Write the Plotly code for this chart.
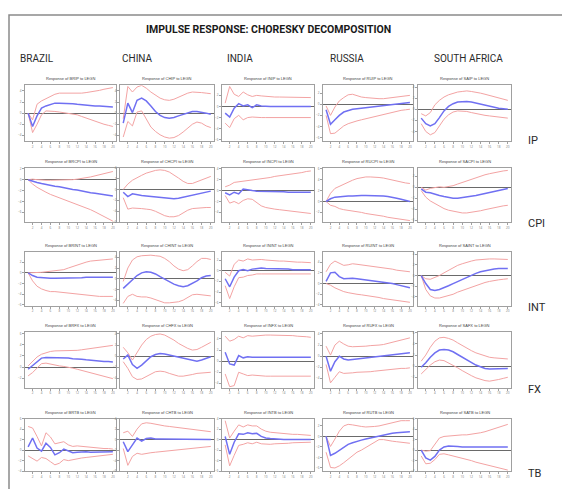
import plotly.graph_objects as go

# ---------------- data ----------------
periods = list(range(1, 21))
countries = ["BRAZIL", "CHINA", "INDIA", "RUSSIA", "SOUTH AFRICA"]
codes = ["BR", "CH", "IN", "RU", "SA"]
variables = ["IP", "CPI", "INT", "FX", "TB"]
title_text = "IMPULSE RESPONSE: CHORESKY DECOMPOSITION"
shock_name = "LEGN"

# IP
ip_brazil_resp = [0, -2.4, -0.5, 0.9, 1.3, 1.6, 1.8, 1.8, 1.8, 1.8, 1.7, 1.6, 1.5, 1.4, 1.4, 1.3, 1.3, 1.2, 1.2, 1.1]
ip_brazil_up = [0, -1.2, 1.6, 2.2, 2.6, 3.0, 3.4, 3.6, 3.6, 3.5, 3.5, 3.5, 3.6, 3.7, 3.8, 4.0, 4.1, 4.3, 4.4, 4.6]
ip_brazil_lo = [0, -3.5, -2.0, -0.3, 0.4, 0.4, 0.3, 0.2, 0.1, 0.0, -0.1, -0.3, -0.6, -0.9, -1.2, -1.5, -1.8, -2.0, -2.2, -2.4]
ip_china_resp = [-1.8, 1.8, 0.1, 2.3, 2.7, 2.2, 1.3, 0.3, -0.4, -0.8, -0.9, -0.8, -0.5, -0.2, 0.1, 0.3, 0.3, 0.2, 0.0, -0.2]
ip_china_up = [-1.0, 4.8, 3.8, 4.7, 5.0, 4.5, 3.8, 3.2, 2.7, 2.4, 2.3, 2.5, 2.9, 3.3, 3.6, 3.8, 3.8, 3.7, 3.6, 3.5]
ip_china_lo = [-4.3, -1.5, -2.3, 0.2, 0.4, -1.0, -2.5, -3.3, -3.9, -4.3, -4.5, -4.4, -4.0, -3.4, -2.7, -2.0, -1.6, -1.8, -2.3, -2.6]
ip_india_resp = [-1.2, -1.9, -0.3, 0.5, 0.1, 0.3, -0.2, 0.3, 0.1, 0.0, 0.0, 0.0, 0.0, 0.0, 0.0, 0.0, 0.0, 0.0, 0.0, 0.0]
ip_india_up = [0.6, 3.6, 2.2, 1.8, 2.6, 2.1, 1.8, 2.0, 1.9, 1.8, 1.8, 1.7, 1.7, 1.7, 1.7, 1.6, 1.6, 1.6, 1.6, 1.6]
ip_india_lo = [-3.0, -3.8, -2.2, -1.6, -2.4, -2.0, -1.9, -2.0, -2.0, -2.0, -2.0, -2.0, -2.0, -2.0, -2.0, -2.0, -2.0, -2.0, -2.0, -2.0]
ip_russia_resp = [-1.0, -3.6, -2.8, -2.0, -1.4, -1.1, -0.9, -0.8, -0.7, -0.6, -0.5, -0.4, -0.3, -0.2, -0.1, 0.0, 0.1, 0.2, 0.2, 0.3]
ip_russia_up = [-0.3, -2.0, -0.5, 0.6, 1.2, 1.7, 1.8, 1.5, 1.3, 1.2, 1.1, 1.0, 1.0, 1.0, 1.1, 1.2, 1.3, 1.4, 1.5, 1.6]
ip_russia_lo = [-2.0, -5.3, -5.2, -4.5, -3.9, -3.5, -3.2, -3.0, -2.8, -2.6, -2.4, -2.2, -2.0, -1.8, -1.6, -1.4, -1.2, -1.1, -1.0, -0.9]
ip_safrica_resp = [-1.6, -2.6, -3.0, -2.6, -1.5, -0.3, 0.5, 1.0, 1.3, 1.4, 1.4, 1.3, 1.1, 0.9, 0.7, 0.5, 0.4, 0.2, 0.1, 0.0]
ip_safrica_up = [-0.8, -1.2, -0.6, 0.8, 1.6, 2.2, 2.6, 2.9, 3.1, 3.2, 3.3, 3.2, 3.1, 2.9, 2.7, 2.5, 2.2, 2.0, 1.8, 1.6]
ip_safrica_lo = [-2.6, -4.0, -4.6, -4.2, -3.0, -1.8, -1.0, -0.5, -0.3, -0.3, -0.4, -0.6, -0.8, -1.0, -1.1, -1.2, -1.3, -1.4, -1.5, -1.6]

# CPI
cpi_brazil_resp = [0, -0.3, -0.5, -0.7, -0.9, -1.0, -1.2, -1.3, -1.5, -1.6, -1.8, -1.9, -2.1, -2.2, -2.4, -2.5, -2.6, -2.8, -2.9, -3.0]
cpi_brazil_up = [0, 0.1, 0.0, -0.1, -0.1, -0.1, -0.1, -0.1, 0.0, 0.0, 0.0, 0.1, 0.2, 0.3, 0.5, 0.7, 0.9, 1.1, 1.3, 1.5]
cpi_brazil_lo = [0, -0.8, -1.4, -1.9, -2.3, -2.7, -3.0, -3.3, -3.6, -3.9, -4.2, -4.5, -4.8, -5.2, -5.5, -5.9, -6.3, -6.7, -7.2, -7.6]
cpi_china_resp = [-0.5, -1.3, -0.8, -1.0, -1.1, -1.2, -1.3, -1.4, -1.5, -1.6, -1.7, -1.7, -1.6, -1.4, -1.2, -1.0, -0.8, -0.6, -0.4, -0.3]
cpi_china_up = [0.0, 1.0, 1.7, 2.2, 2.6, 3.0, 3.3, 3.5, 3.6, 3.5, 3.2, 2.7, 2.1, 1.5, 1.1, 1.1, 1.4, 1.8, 2.1, 2.4]
cpi_china_lo = [-1.5, -3.6, -3.4, -3.4, -3.5, -3.6, -3.7, -4.0, -4.4, -4.8, -5.0, -5.0, -4.8, -4.3, -3.8, -3.5, -3.4, -3.3, -3.3, -3.3]
cpi_india_resp = [-0.4, -0.8, -0.3, -0.6, 0.3, 0.1, 0.0, -0.1, -0.1, -0.2, -0.2, -0.2, -0.2, -0.2, -0.3, -0.3, -0.3, -0.3, -0.3, -0.3]
cpi_india_up = [0.7, 1.0, 1.5, 1.6, 1.8, 1.9, 2.0, 2.1, 2.2, 2.3, 2.4, 2.6, 2.7, 2.8, 2.9, 3.1, 3.2, 3.3, 3.5, 3.6]
cpi_india_lo = [-0.9, -2.3, -2.0, -2.4, -1.8, -1.5, -1.6, -2.2, -2.8, -3.1, -3.3, -3.4, -3.5, -3.6, -3.7, -3.8, -3.9, -4.0, -4.1, -4.2]
cpi_russia_resp = [0.0, 0.5, 0.8, 0.9, 0.9, 1.0, 1.0, 1.1, 1.1, 1.1, 1.1, 1.1, 1.0, 1.0, 0.9, 0.8, 0.6, 0.4, 0.2, 0.0]
cpi_russia_up = [0.0, 1.5, 2.4, 2.8, 3.2, 3.6, 3.9, 4.2, 4.4, 4.5, 4.5, 4.5, 4.4, 4.3, 4.1, 3.9, 3.7, 3.6, 3.4, 3.3]
cpi_russia_lo = [0.0, -0.7, -0.9, -1.3, -1.5, -1.6, -1.8, -1.9, -2.0, -2.2, -2.3, -2.5, -2.6, -2.7, -2.9, -3.0, -3.1, -3.3, -3.4, -3.5]
cpi_safrica_resp = [-0.3, -0.9, -1.0, -1.3, -1.5, -1.7, -1.9, -2.0, -2.0, -1.9, -1.8, -1.7, -1.5, -1.3, -1.1, -0.9, -0.7, -0.5, -0.4, -0.2]
cpi_safrica_up = [0.0, -0.5, -0.2, 0.0, 0.1, 0.0, 0.1, 0.3, 0.6, 0.9, 1.2, 1.5, 1.8, 2.1, 2.3, 2.5, 2.7, 2.9, 3.0, 3.1]
cpi_safrica_lo = [-0.6, -1.8, -2.5, -3.0, -3.5, -3.9, -4.2, -4.4, -4.6, -4.7, -4.7, -4.6, -4.5, -4.3, -4.1, -3.9, -3.7, -3.5, -3.4, -3.3]

# INT
int_brazil_resp = [0, -0.5, -0.8, -0.9, -1.0, -1.0, -1.0, -1.0, -1.0, -0.9, -0.9, -0.9, -0.9, -0.8, -0.8, -0.8, -0.8, -0.8, -0.8, -0.8]
int_brazil_up = [0, 0.0, 0.1, 0.1, 0.2, 0.3, 0.3, 0.4, 0.6, 0.9, 1.2, 1.5, 1.8, 2.0, 2.2, 2.3, 2.4, 2.5, 2.6, 2.6]
int_brazil_lo = [0, -1.5, -2.5, -3.0, -3.3, -3.5, -3.5, -3.6, -3.7, -3.8, -3.9, -4.0, -4.1, -4.2, -4.3, -4.3, -4.4, -4.4, -4.4, -4.4]
int_china_resp = [-1.8, -1.0, -0.2, 0.6, 1.1, 1.3, 1.2, 0.9, 0.4, -0.1, -0.6, -1.0, -1.3, -1.5, -1.3, -0.9, -0.4, 0.2, 0.5, 0.6]
int_china_up = [-0.5, 2.0, 3.5, 4.1, 4.3, 4.4, 4.4, 4.3, 4.2, 3.8, 3.2, 2.4, 1.8, 1.5, 1.7, 2.4, 3.2, 3.8, 3.8, 3.6]
int_china_lo = [-4.6, -3.3, -2.9, -3.3, -3.4, -3.4, -3.6, -3.9, -4.3, -4.5, -4.5, -4.4, -4.3, -4.0, -3.5, -3.0, -2.9, -3.0, -3.1, -3.2]
int_india_resp = [-1.5, -3.0, -1.2, 0.0, 0.2, 0.0, 0.3, 0.4, 0.5, 0.4, 0.4, 0.3, 0.3, 0.3, 0.3, 0.2, 0.2, 0.2, 0.2, 0.2]
int_india_up = [-0.3, -1.0, 1.2, 2.0, 1.8, 2.2, 2.0, 2.1, 2.1, 2.0, 1.9, 1.9, 1.8, 1.8, 1.7, 1.7, 1.6, 1.6, 1.5, 1.5]
int_india_lo = [-2.8, -5.2, -3.0, -1.3, -1.2, -0.9, -0.8, -0.6, -0.6, -0.6, -0.6, -0.6, -0.6, -0.6, -0.6, -0.6, -0.6, -0.6, -0.6, -0.6]
int_russia_resp = [0.4, 2.0, 2.1, 1.3, 0.9, 1.0, 1.0, 0.9, 0.8, 0.7, 0.6, 0.5, 0.4, 0.3, 0.2, 0.0, -0.2, -0.4, -0.6, -0.8]
int_russia_up = [2.2, 3.6, 4.2, 3.8, 3.4, 3.5, 3.7, 3.6, 3.5, 3.4, 3.3, 3.2, 3.1, 2.9, 2.8, 2.7, 2.5, 2.4, 2.3, 2.2]
int_russia_lo = [0.0, -0.3, -0.8, -1.2, -1.5, -1.7, -1.9, -2.0, -2.1, -2.2, -2.4, -2.5, -2.6, -2.8, -2.9, -3.0, -3.1, -3.3, -3.4, -3.5]
int_safrica_resp = [0.0, -1.5, -2.6, -2.8, -2.6, -2.3, -1.9, -1.5, -1.1, -0.7, -0.3, 0.1, 0.4, 0.7, 0.9, 1.1, 1.2, 1.3, 1.3, 1.3]
int_safrica_up = [0.0, -0.6, -0.7, -0.4, 0.0, 0.5, 1.0, 1.5, 1.9, 2.2, 2.5, 2.7, 2.9, 3.0, 3.1, 3.1, 3.1, 3.1, 3.0, 3.0]
int_safrica_lo = [0.0, -2.6, -3.8, -4.2, -4.2, -4.0, -3.8, -3.5, -3.1, -2.8, -2.4, -2.1, -1.8, -1.5, -1.3, -1.1, -0.9, -0.8, -0.7, -0.6]

# FX
fx_brazil_resp = [-0.4, 0.3, 1.0, 1.6, 1.7, 1.7, 1.7, 1.7, 1.6, 1.6, 1.5, 1.5, 1.4, 1.3, 1.2, 1.2, 1.1, 1.0, 1.0, 0.9]
fx_brazil_up = [0.2, 1.0, 1.8, 2.3, 2.6, 2.8, 2.9, 2.9, 2.9, 2.9, 2.9, 3.0, 3.1, 3.2, 3.3, 3.4, 3.6, 3.7, 3.8, 3.9]
fx_brazil_lo = [-1.6, -1.0, -0.2, 0.6, 0.7, 0.5, 0.4, 0.2, 0.1, 0.0, -0.2, -0.4, -0.6, -0.8, -1.0, -1.3, -1.5, -1.7, -1.9, -2.1]
fx_china_resp = [-0.5, 0.2, -1.5, -2.2, -1.6, -0.8, -0.1, 0.3, 0.5, 0.4, 0.2, 0.0, -0.2, -0.4, -0.6, -0.8, -0.9, -0.7, -0.4, -0.1]
fx_china_up = [1.6, 0.6, -0.7, 0.6, 2.0, 3.0, 3.6, 3.9, 4.0, 3.8, 3.4, 2.9, 2.3, 1.8, 1.4, 1.1, 1.2, 1.6, 2.1, 2.5]
fx_china_lo = [-1.0, -2.2, -3.7, -4.2, -4.1, -3.7, -3.2, -2.8, -2.7, -2.8, -3.1, -3.4, -3.6, -3.6, -3.5, -3.3, -3.1, -3.0, -2.9, -2.9]
fx_india_resp = [1.6, -0.5, -0.7, 1.0, 0.6, 0.8, 0.7, 0.7, 0.8, 0.7, 0.7, 0.7, 0.7, 0.7, 0.7, 0.7, 0.7, 0.7, 0.7, 0.7]
fx_india_up = [4.5, 3.6, 3.9, 4.5, 4.2, 4.6, 4.5, 4.6, 4.7, 4.7, 4.7, 4.7, 4.7, 4.7, 4.6, 4.6, 4.5, 4.5, 4.4, 4.3]
fx_india_lo = [-2.3, -4.6, -4.4, -2.0, -2.3, -2.6, -2.5, -2.6, -2.6, -2.7, -2.7, -2.7, -2.7, -2.7, -2.7, -2.7, -2.7, -2.7, -2.7, -2.7]
fx_russia_resp = [0.0, -2.7, -1.0, 0.0, -0.5, -0.7, -0.6, -0.5, -0.4, -0.4, -0.3, -0.2, -0.1, 0.0, 0.1, 0.2, 0.3, 0.4, 0.5, 0.6]
fx_russia_up = [1.8, 0.2, 2.0, 2.7, 2.2, 1.8, 1.7, 1.7, 1.8, 1.8, 1.9, 1.9, 2.0, 2.1, 2.3, 2.5, 2.7, 2.9, 3.1, 3.3]
fx_russia_lo = [-1.5, -4.8, -3.8, -2.8, -3.1, -3.1, -3.0, -2.9, -2.9, -2.8, -2.8, -2.7, -2.6, -2.5, -2.4, -2.3, -2.3, -2.2, -2.2, -2.1]
fx_safrica_resp = [-0.2, 0.6, 1.6, 2.4, 2.9, 3.0, 2.9, 2.6, 2.1, 1.6, 1.1, 0.6, 0.2, -0.1, -0.4, -0.5, -0.5, -0.5, -0.5, -0.4]
fx_safrica_up = [0.9, 2.0, 3.4, 4.5, 5.1, 5.2, 5.0, 4.7, 4.2, 3.7, 3.2, 2.8, 2.4, 2.1, 1.8, 1.6, 1.5, 1.4, 1.3, 1.3]
fx_safrica_lo = [-1.4, -0.6, 0.2, 0.8, 1.1, 1.0, 0.6, 0.2, -0.3, -0.8, -1.3, -1.7, -2.1, -2.4, -2.6, -2.7, -2.6, -2.4, -2.2, -2.0]

# TB
tb_brazil_resp = [0.6, 2.3, 0.4, -0.2, 1.3, 0.5, -0.9, -0.5, 0.2, -0.2, -0.5, -0.4, -0.3, -0.3, -0.4, -0.4, -0.3, -0.3, -0.3, -0.3]
tb_brazil_up = [4.5, 4.2, 2.6, 0.8, 3.3, 2.5, 1.2, 1.4, 1.6, 1.0, 0.7, 0.8, 0.7, 0.6, 0.5, 0.5, 0.4, 0.3, 0.3, 0.2]
tb_brazil_lo = [-1.1, -1.6, -2.1, -1.4, -1.6, -2.2, -2.8, -2.5, -1.8, -2.0, -1.8, -1.6, -1.5, -1.4, -1.3, -1.2, -1.1, -1.0, -0.9, -0.8]
tb_china_resp = [-0.4, -2.3, -1.0, 0.3, -0.3, 0.2, 0.3, 0.1, 0.1, 0.1, 0.0, 0.1, 0.1, 0.1, 0.0, 0.0, 0.0, 0.0, 0.0, 0.0]
tb_china_up = [1.3, 1.6, 0.6, 2.0, 3.0, 3.2, 3.1, 2.9, 2.7, 2.6, 2.5, 2.4, 2.3, 2.2, 2.1, 2.0, 1.9, 1.8, 1.6, 1.5]
tb_china_lo = [-1.7, -4.9, -3.2, -2.6, -2.8, -2.6, -2.5, -2.4, -2.3, -2.2, -2.1, -2.0, -1.9, -1.8, -1.7, -1.6, -1.5, -1.4, -1.3, -1.3]
tb_india_resp = [0.6, -2.8, -0.5, 1.1, 1.0, 1.3, 1.1, 1.2, 0.6, 0.3, 0.2, 0.1, 0.0, 0.0, 0.0, 0.0, 0.0, 0.0, 0.0, 0.0]
tb_india_up = [3.6, 0.3, 1.6, 2.8, 2.4, 2.8, 2.6, 2.6, 2.0, 1.6, 1.4, 1.3, 1.2, 1.1, 1.1, 1.0, 1.0, 0.9, 0.9, 0.8]
tb_india_lo = [-1.0, -5.0, -3.0, -1.1, -0.9, -0.6, -0.8, -0.5, -0.8, -0.9, -0.9, -0.8, -0.8, -0.7, -0.7, -0.6, -0.6, -0.6, -0.5, -0.5]
tb_russia_resp = [0.0, -3.6, -3.2, -2.6, -2.0, -1.5, -1.2, -0.9, -0.7, -0.5, -0.3, -0.1, 0.1, 0.3, 0.5, 0.6, 0.7, 0.8, 0.9, 0.9]
tb_russia_up = [0.0, -1.9, -0.5, 1.0, 2.0, 2.3, 2.2, 2.0, 1.9, 1.8, 1.8, 1.9, 2.0, 2.2, 2.5, 2.7, 2.9, 3.0, 3.0, 3.0]
tb_russia_lo = [-3.0, -5.9, -6.0, -5.6, -5.0, -4.3, -3.6, -3.0, -2.6, -2.1, -1.5, -1.0, -0.6, -0.6, -0.8, -0.9, -1.0, -1.1, -1.2, -1.3]
tb_safrica_resp = [0.0, -1.5, -1.9, -1.2, 0.0, 0.6, 0.8, 0.8, 0.7, 0.6, 0.6, 0.6, 0.5, 0.5, 0.5, 0.5, 0.6, 0.6, 0.6, 0.6]
tb_safrica_up = [0.0, -0.2, -0.1, 1.2, 2.3, 2.6, 2.7, 2.8, 2.8, 2.9, 2.9, 3.0, 3.1, 3.3, 3.5, 3.8, 4.1, 4.4, 4.7, 4.9]
tb_safrica_lo = [-1.1, -2.6, -2.5, -1.8, -0.8, -0.7, -0.9, -1.1, -1.3, -1.5, -1.8, -2.0, -2.3, -2.5, -2.8, -3.0, -3.2, -3.4, -3.6, -3.8]

g = globals()
keys = ["brazil", "china", "india", "russia", "safrica"]

# y-axis lower bounds for each panel (row = variable, col = country); span is 10
y_lo = [
    [-5, -5, -6.2, -6.6, -5.7],
    [-7.8, -6, -5.8, -3.8, -6.4],
    [-6.1, -5, -6.5, -4.1, -5.6],
    [-3.75, -5.7, -4.8, -5.7, -3.9],
    [-4, -6, -6, -6.6, -4],
]

# ---------------- layout geometry (page pixels) ----------------
PAGE_OFF = 8            # the html body margin shifts the figure by 8 px
W, H = 570 - PAGE_OFF, 489 - PAGE_OFF
col_px = [(25, 116), (120, 214), (222, 314), (323, 413), (418, 511)]
row_px = [(84, 140), (167, 222), (252, 306), (333, 389), (420, 473)]

def fx(px):
    return (px - PAGE_OFF) / W

def fy(py):
    return 1 - (py - PAGE_OFF) / H

BLUE = "#7070f2"
RED = "#f3a3a3"
FONT = "Roboto, sans-serif"

fig = go.Figure()
layout = dict(
    width=W, height=H,
    margin=dict(l=0, r=0, t=0, b=0),
    paper_bgcolor="white", plot_bgcolor="white",
    showlegend=False,
)
annotations = []

for r, var in enumerate(variables):
    for c, key in enumerate(keys):
        k = r * 5 + c + 1
        xa = "x" if k == 1 else f"x{k}"
        ya = "y" if k == 1 else f"y{k}"
        resp = g[f"{var.lower()}_{key}_resp"]
        up = g[f"{var.lower()}_{key}_up"]
        lo = g[f"{var.lower()}_{key}_lo"]
        for series, color, w in ((up, RED, 1.0), (lo, RED, 1.0), (resp, BLUE, 1.5)):
            fig.add_trace(go.Scatter(x=periods, y=series, mode="lines",
                                     line=dict(color=color, width=w),
                                     xaxis=xa, yaxis=ya, hoverinfo="skip"))
        x0, x1 = col_px[c]
        y0, y1 = row_px[r]
        lo_v = y_lo[r][c]
        layout["xaxis" if k == 1 else f"xaxis{k}"] = dict(
            domain=[fx(x0), fx(x1)], anchor=ya, range=[0.3, 20.7],
            showgrid=False, zeroline=False, showline=True, mirror=True,
            linecolor="#a0a0a0", linewidth=1, ticks="outside", ticklen=2,
            tickcolor="#a0a0a0", dtick=2, tick0=2,
            tickfont=dict(size=3, color="#777"),
        )
        layout["yaxis" if k == 1 else f"yaxis{k}"] = dict(
            domain=[fy(y1), fy(y0)], anchor=xa, range=[lo_v, lo_v + 10],
            showgrid=False, zeroline=True, zerolinecolor="#6a6a6a", zerolinewidth=1.2,
            showline=True, mirror=True, linecolor="#a0a0a0", linewidth=1,
            ticks="outside", ticklen=2, tickcolor="#a0a0a0", dtick=2,
            tickfont=dict(size=3, color="#777"),
        )
        annotations.append(dict(
            x=fx((x0 + x1) / 2), y=fy(y0 - 2), xref="paper", yref="paper",
            text=f"Response of {codes[c]}{var} to {shock_name}", showarrow=False,
            xanchor="center", yanchor="bottom",
            font=dict(size=4, color="#444", family="Liberation Sans"),
        ))

# Main title
annotations.append(dict(
    x=fx(268), y=fy(28), xref="paper", yref="paper", text=f"<b>{title_text}</b>",
    showarrow=False, xanchor="center", yanchor="middle",
    font=dict(size=10.5, color="#1a1a1a", family=FONT),
))
# Country headers
country_x = [18, 120, 225, 328, 432]
for name, cxp in zip(countries, country_x):
    annotations.append(dict(
        x=fx(cxp), y=fy(57), xref="paper", yref="paper", text=name,
        showarrow=False, xanchor="left", yanchor="middle",
        font=dict(size=10, color="#2a2a2a", family=FONT),
    ))
# Row labels
row_label_y = [140, 223, 308, 391, 475]
for name, ryp in zip(variables, row_label_y):
    annotations.append(dict(
        x=fx(526), y=fy(ryp), xref="paper", yref="paper", text=name,
        showarrow=False, xanchor="left", yanchor="middle",
        font=dict(size=11, color="#2a2a2a", family=FONT),
    ))

layout["annotations"] = annotations
layout["shapes"] = [dict(
    type="rect", xref="paper", yref="paper",
    x0=fx(9), x1=1.05, y0=-0.05, y1=fy(13),
    line=dict(color="#8a8a8a", width=1.5), fillcolor="rgba(0,0,0,0)",
)]
fig.update_layout(**layout)
fig.write_html("out.html")
